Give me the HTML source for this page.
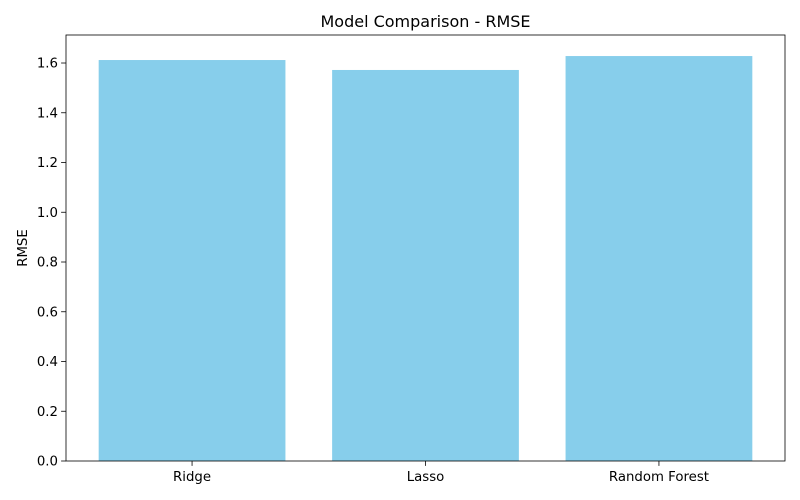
<!DOCTYPE html>
<html><head><meta charset="utf-8">
<style>
html,body{margin:0;padding:0;background:#fff;}
svg{display:block;font-family:"DejaVu Sans","Liberation Sans",sans-serif;}
</style></head>
<body>
<svg id="chart" width="800" height="500">
</svg>
<script>
const categories = ["Ridge", "Lasso", "Random Forest"];
const rmseValues = [1.612, 1.572, 1.628];
const yTicks = [0.0, 0.2, 0.4, 0.6, 0.8, 1.0, 1.2, 1.4, 1.6];
const yMax = 1.7126;

const L = 66, R = 785, T = 35, B = 461;
const svg = document.getElementById('chart');
const NS = 'http://www.w3.org/2000/svg';
function mk(tag, attrs, text) {
  const e = document.createElementNS(NS, tag);
  for (const k in attrs) e.setAttribute(k, attrs[k]);
  if (text !== undefined) e.textContent = text;
  svg.appendChild(e);
  return e;
}
const n = categories.length;
const xMin = -0.4 - 0.05 * (n - 1 + 0.8), xMaxV = n - 1 + 0.4 + 0.05 * (n - 1 + 0.8);
function xs(v) { return L + (v - xMin) / (xMaxV - xMin) * (R - L); }
function ys(v) { return B - v / yMax * (B - T); }

categories.forEach((c, i) => {
  const x0 = xs(i - 0.4), x1 = xs(i + 0.4);
  const r = mk('rect', {x: x0, y: ys(rmseValues[i]), width: x1 - x0, height: B - ys(rmseValues[i]), fill: '#87ceeb'});
  
  
  const t = mk('line', {x1: xs(i), x2: xs(i), y1: B, y2: B + 4.9, stroke: '#000', 'stroke-width': 0.8});
  
  
  const lb = mk('text', {x: xs(i), y: B + 20, 'text-anchor': 'middle', 'font-size': 13.3, fill: '#000'}, c);
  
  
});

yTicks.forEach(v => {
  const y = ys(v);
  const t = mk('line', {x1: L - 4.9, x2: L, y1: y, y2: y, stroke: '#000', 'stroke-width': 0.8});
  
  
  const lb = mk('text', {x: L - 8, y: y + 4.7, 'text-anchor': 'end', 'font-size': 13.3, fill: '#000'}, v.toFixed(1));
  
  
});

const frame = mk('rect', {x: L, y: T, width: R - L, height: B - T, fill: 'none', stroke: '#000', 'stroke-width': 0.8});



const title = mk('text', {x: (L + R) / 2, y: T - 8, 'text-anchor': 'middle', 'font-size': 16, fill: '#000'}, 'Model Comparison - RMSE');



const yt = mk('text', {x: 27, y: (T + B) / 2, 'text-anchor': 'middle', 'font-size': 13.3, fill: '#000', transform: 'rotate(-90 27 ' + (T + B) / 2 + ')'}, 'RMSE');


</script>
</body></html>
